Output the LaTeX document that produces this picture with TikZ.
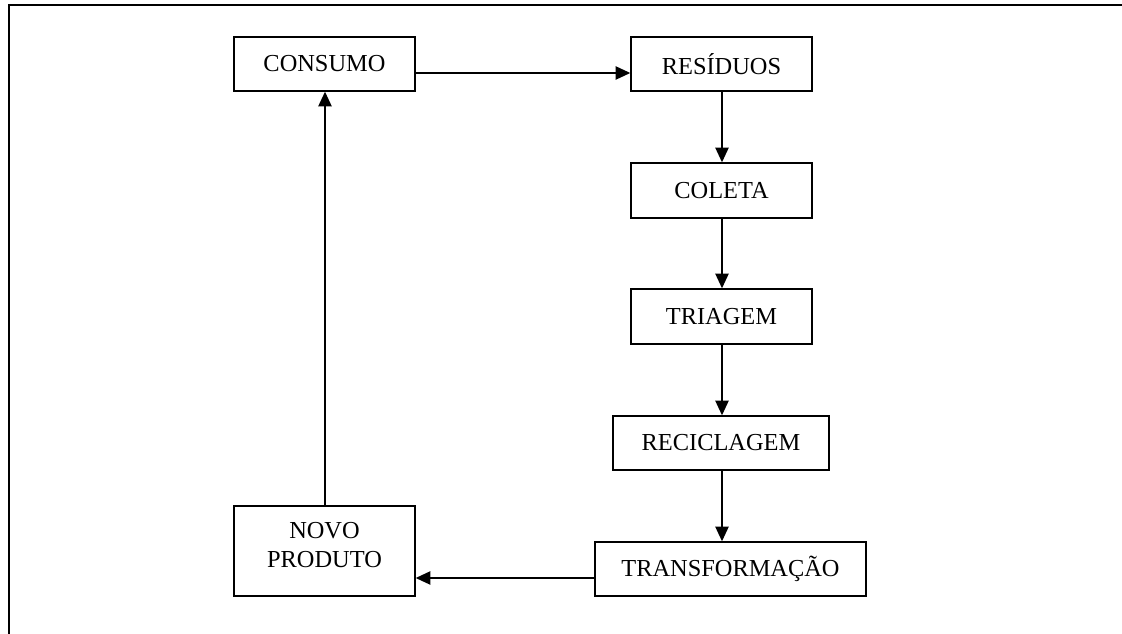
\documentclass[tikz,border=0pt]{standalone}
\usepackage{fontspec}
\setmainfont{Liberation Serif}
\usetikzlibrary{arrows.meta,calc}
\begin{document}
\begin{tikzpicture}[x=0.75pt,y=-0.75pt,
  box/.style 2 args={draw,line width=1.1pt,inner sep=0pt,
    minimum width={#1*0.75pt},minimum height={#2*0.75pt},
    align=center,font=\fontsize{18.3}{21.8}\selectfont},
  conn/.style={line width=1.1pt,-{Triangle[length=11pt,width=10pt]}}]
\useasboundingbox (0,0) rectangle (1122,634);
\draw[line width=1.5pt] (9,634) -- (9,5) -- (1122,5);
\node[box={181}{54}] (consumo) at (324.5,64) {CONSUMO};
\node[box={181}{54}] (residuos) at (721.5,64) {RESÍDUOS};
\node[box={181}{55}] (coleta) at (721.5,190.5) {COLETA};
\node[box={181}{55}] (triagem) at (721.5,316.5) {TRIAGEM};
\node[box={216}{54}] (recic) at (721,443) {RECICLAGEM};
\node[box={271}{54}] (transf) at (730.5,569) {TRANSFORMAÇÃO};
\node[box={181}{90}] (novo) at (324.5,551) {};
\node (novotxt) at (324.5,547) {\fontsize{18.3}{21.8}\selectfont\begin{tabular}{@{}c@{}}NOVO\\[0pt]PRODUTO\end{tabular}};
\draw[conn] ($(consumo.east)+(0,9)$) coordinate (c1) -- (residuos.west |- c1);
\draw[conn] (residuos.south -| 722,0) -- (coleta.north -| 722,0);
\draw[conn] (coleta.south -| 722,0) -- (triagem.north -| 722,0);
\draw[conn] (triagem.south -| 722,0) -- (recic.north -| 722,0);
\draw[conn] (recic.south -| 722,0) -- (transf.north -| 722,0);
\draw[conn] ($(transf.west)+(0,9)$) coordinate (t1) -- (novo.east |- t1);
\draw[conn] (novo.north -| 325,0) -- (consumo.south -| 325,0);
\end{tikzpicture}
\end{document}
